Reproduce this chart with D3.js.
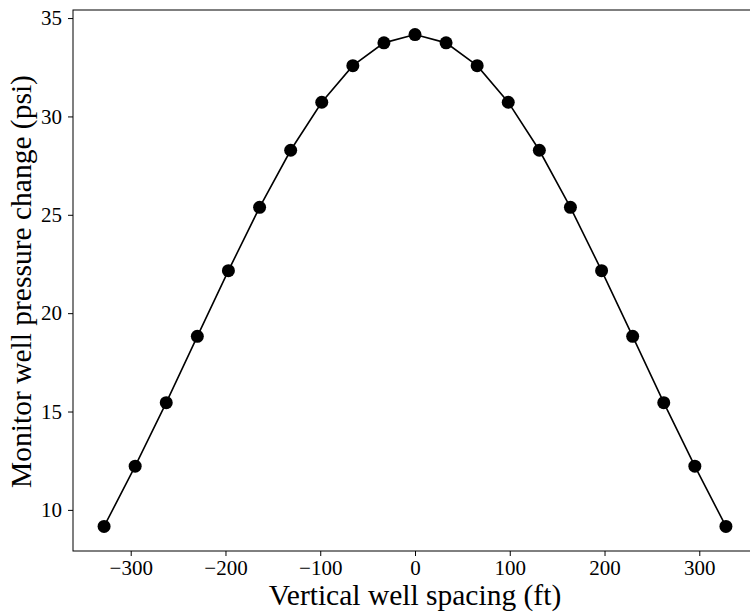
<!DOCTYPE html>
<html>
<head>
<meta charset="utf-8">
<script src="https://cdn.jsdelivr.net/npm/d3@7"></script>
<style>
  html, body { margin: 0; padding: 0; background: #fff; }
  svg { display: block; }
</style>
</head>
<body>
<svg id="chart" width="750" height="613"></svg>
<script>
// Data
const spacingFt = [-328.1, -295.3, -262.5, -229.7, -196.9, -164.0, -131.2, -98.4, -65.6, -32.8, 0,
                   32.8, 65.6, 98.4, 131.2, 164.0, 196.9, 229.7, 262.5, 295.3, 328.1];
const pressurePsi = [9.16, 12.22, 15.45, 18.82, 22.16, 25.38, 28.28, 30.72, 32.58, 33.74, 34.16,
                     33.74, 32.58, 30.72, 28.28, 25.38, 22.16, 18.82, 15.45, 12.22, 9.16];
const xTicks = [-300, -200, -100, 0, 100, 200, 300];
const yTicks = [10, 15, 20, 25, 30, 35];
const xLabel = "Vertical well spacing (ft)";
const yLabel = "Monitor well pressure change (psi)";

(function () {
const svg = d3.select("#chart");
const mLeft = 73, mTop = 10, mBottom = 551, mRight = 757;

const x = d3.scaleLinear().domain([-360.9, 360.9]).range([mLeft, mRight]);
const y = d3.scaleLinear().domain([7.91, 35.41]).range([mBottom, mTop]);

const font = "'Liberation Serif', 'Times New Roman', serif";

// frame
svg.append("rect")
  .attr("x", mLeft).attr("y", mTop)
  .attr("width", mRight - mLeft).attr("height", mBottom - mTop)
  .attr("fill", "none").attr("stroke", "#000").attr("stroke-width", 1);

// axes
const xAxis = svg.append("g")
  .attr("transform", `translate(0,${mBottom})`)
  .call(d3.axisBottom(x).tickValues(xTicks).tickSize(5).tickPadding(6)
        .tickFormat(d => d < 0 ? "\u2212" + Math.abs(d) : String(d)));
const yAxis = svg.append("g")
  .attr("transform", `translate(${mLeft},0)`)
  .call(d3.axisLeft(y).tickValues(yTicks).tickSize(5).tickPadding(6));

[xAxis, yAxis].forEach(g => {
  g.select(".domain").remove();
  g.selectAll("line").attr("stroke", "#000").attr("stroke-width", 1);
  g.selectAll("text").attr("fill", "#000")
    .style("font-family", font).style("font-size", "21px");
});
xAxis.selectAll("text").attr("y", 24).attr("dy", 0);

// line
const line = d3.line().x((d, i) => x(spacingFt[i])).y(d => y(d));
svg.append("path")
  .datum(pressurePsi)
  .attr("d", line)
  .attr("fill", "none")
  .attr("stroke", "#000")
  .attr("stroke-width", 1.6);

// markers
svg.selectAll("circle.pt")
  .data(pressurePsi)
  .enter().append("circle")
  .attr("class", "pt")
  .attr("cx", (d, i) => x(spacingFt[i]))
  .attr("cy", d => y(d))
  .attr("r", 6.5)
  .attr("fill", "#000");

// labels
svg.append("text")
  .attr("x", 415)
  .attr("y", 605)
  .attr("text-anchor", "middle")
  .style("font-family", font).style("font-size", "29.5px")
  .text(xLabel);

svg.append("text")
  .attr("transform", `translate(31,${(mTop + mBottom) / 2 + 1}) rotate(-90)`)
  .attr("text-anchor", "middle")
  .style("font-family", font).style("font-size", "29.5px")
  .text(yLabel);
})();
</script>
</body>
</html>
